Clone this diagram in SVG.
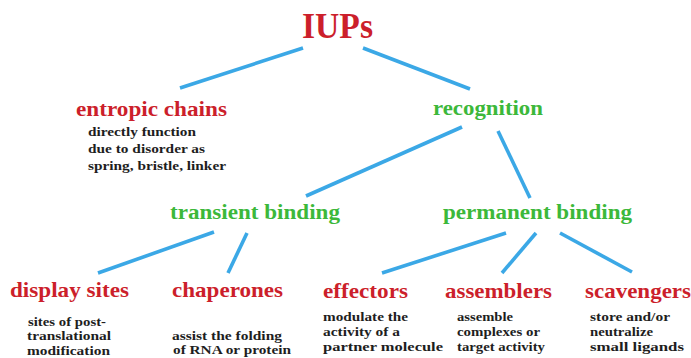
<svg xmlns="http://www.w3.org/2000/svg" width="691" height="358" viewBox="0 0 691 358">
<style>
  text { font-family: "Liberation Serif", "Times New Roman", "DejaVu Serif", serif; font-weight: 700; }
  .red { fill: #cc1f2b; }
  .green { fill: #3cb83a; }
  .h1 { font-size: 36px; }
  .h2 { font-size: 20px; }
  .h3 { font-size: 21px; }
  .d { font-size: 13.5px; fill: #1e1e1e; }
  .c line { stroke: #3ba8e6; stroke-width: 3.6; stroke-linecap: butt; }
</style>
<rect width="691" height="358" fill="#ffffff"/>
<g id="connectors" class="c">
  <line x1="303" y1="48" x2="180" y2="88"/>
  <line x1="363" y1="48" x2="470" y2="89"/>
  <line x1="462" y1="127" x2="306" y2="196"/>
  <line x1="498" y1="131" x2="530" y2="198"/>
  <line x1="214" y1="232" x2="98" y2="273"/>
  <line x1="247" y1="233" x2="228" y2="273"/>
  <line x1="506" y1="233" x2="382" y2="273"/>
  <line x1="536" y1="233" x2="502" y2="273"/>
  <line x1="560" y1="233" x2="632" y2="272"/>
</g>
<g id="iups">
  <text class="red h1" x="302" y="38" textLength="71" lengthAdjust="spacingAndGlyphs">IUPs</text>
</g>
<g id="entropic-chains">
  <text class="red h2" x="76" y="116" textLength="151" lengthAdjust="spacingAndGlyphs">entropic chains</text>
  <text class="d" x="88" y="136" textLength="108" lengthAdjust="spacingAndGlyphs">directly function</text>
  <text class="d" x="88" y="153" textLength="117" lengthAdjust="spacingAndGlyphs">due to disorder as</text>
  <text class="d" x="88" y="170" textLength="138" lengthAdjust="spacingAndGlyphs">spring, bristle, linker</text>
</g>
<g id="recognition">
  <text class="green h2" x="433" y="115" textLength="110" lengthAdjust="spacingAndGlyphs">recognition</text>
</g>
<g id="transient-binding">
  <text class="green h2" x="170" y="219" textLength="170" lengthAdjust="spacingAndGlyphs">transient binding</text>
</g>
<g id="permanent-binding">
  <text class="green h2" x="443" y="219" textLength="189" lengthAdjust="spacingAndGlyphs">permanent binding</text>
</g>
<g id="display-sites">
  <text class="red h3" x="10" y="297" textLength="119" lengthAdjust="spacingAndGlyphs">display sites</text>
  <text class="d" x="28" y="326" textLength="78" lengthAdjust="spacingAndGlyphs">sites of post-</text>
  <text class="d" x="27" y="340" textLength="84" lengthAdjust="spacingAndGlyphs">translational</text>
  <text class="d" x="27" y="355" textLength="83" lengthAdjust="spacingAndGlyphs">modification</text>
</g>
<g id="chaperones">
  <text class="red h3" x="172" y="297" textLength="111" lengthAdjust="spacingAndGlyphs">chaperones</text>
  <text class="d" x="172" y="340" textLength="110" lengthAdjust="spacingAndGlyphs">assist the folding</text>
  <text class="d" x="173" y="354" textLength="118" lengthAdjust="spacingAndGlyphs">of RNA or protein</text>
</g>
<g id="effectors">
  <text class="red h3" x="323" y="298" textLength="85" lengthAdjust="spacingAndGlyphs">effectors</text>
  <text class="d" x="323" y="321" textLength="85" lengthAdjust="spacingAndGlyphs">modulate the</text>
  <text class="d" x="323" y="336" textLength="77" lengthAdjust="spacingAndGlyphs">activity of a</text>
  <text class="d" x="323" y="351" textLength="120" lengthAdjust="spacingAndGlyphs">partner molecule</text>
</g>
<g id="assemblers">
  <text class="red h3" x="445" y="298" textLength="107" lengthAdjust="spacingAndGlyphs">assemblers</text>
  <text class="d" x="457" y="321" textLength="56" lengthAdjust="spacingAndGlyphs">assemble</text>
  <text class="d" x="457" y="336" textLength="83" lengthAdjust="spacingAndGlyphs">complexes or</text>
  <text class="d" x="457" y="351" textLength="88" lengthAdjust="spacingAndGlyphs">target activity</text>
</g>
<g id="scavengers">
  <text class="red h3" x="585" y="298" textLength="106" lengthAdjust="spacingAndGlyphs">scavengers</text>
  <text class="d" x="590" y="321" textLength="80" lengthAdjust="spacingAndGlyphs">store and/or</text>
  <text class="d" x="590" y="336" textLength="63" lengthAdjust="spacingAndGlyphs">neutralize</text>
  <text class="d" x="590" y="351" textLength="94" lengthAdjust="spacingAndGlyphs">small ligands</text>
</g>
</svg>
